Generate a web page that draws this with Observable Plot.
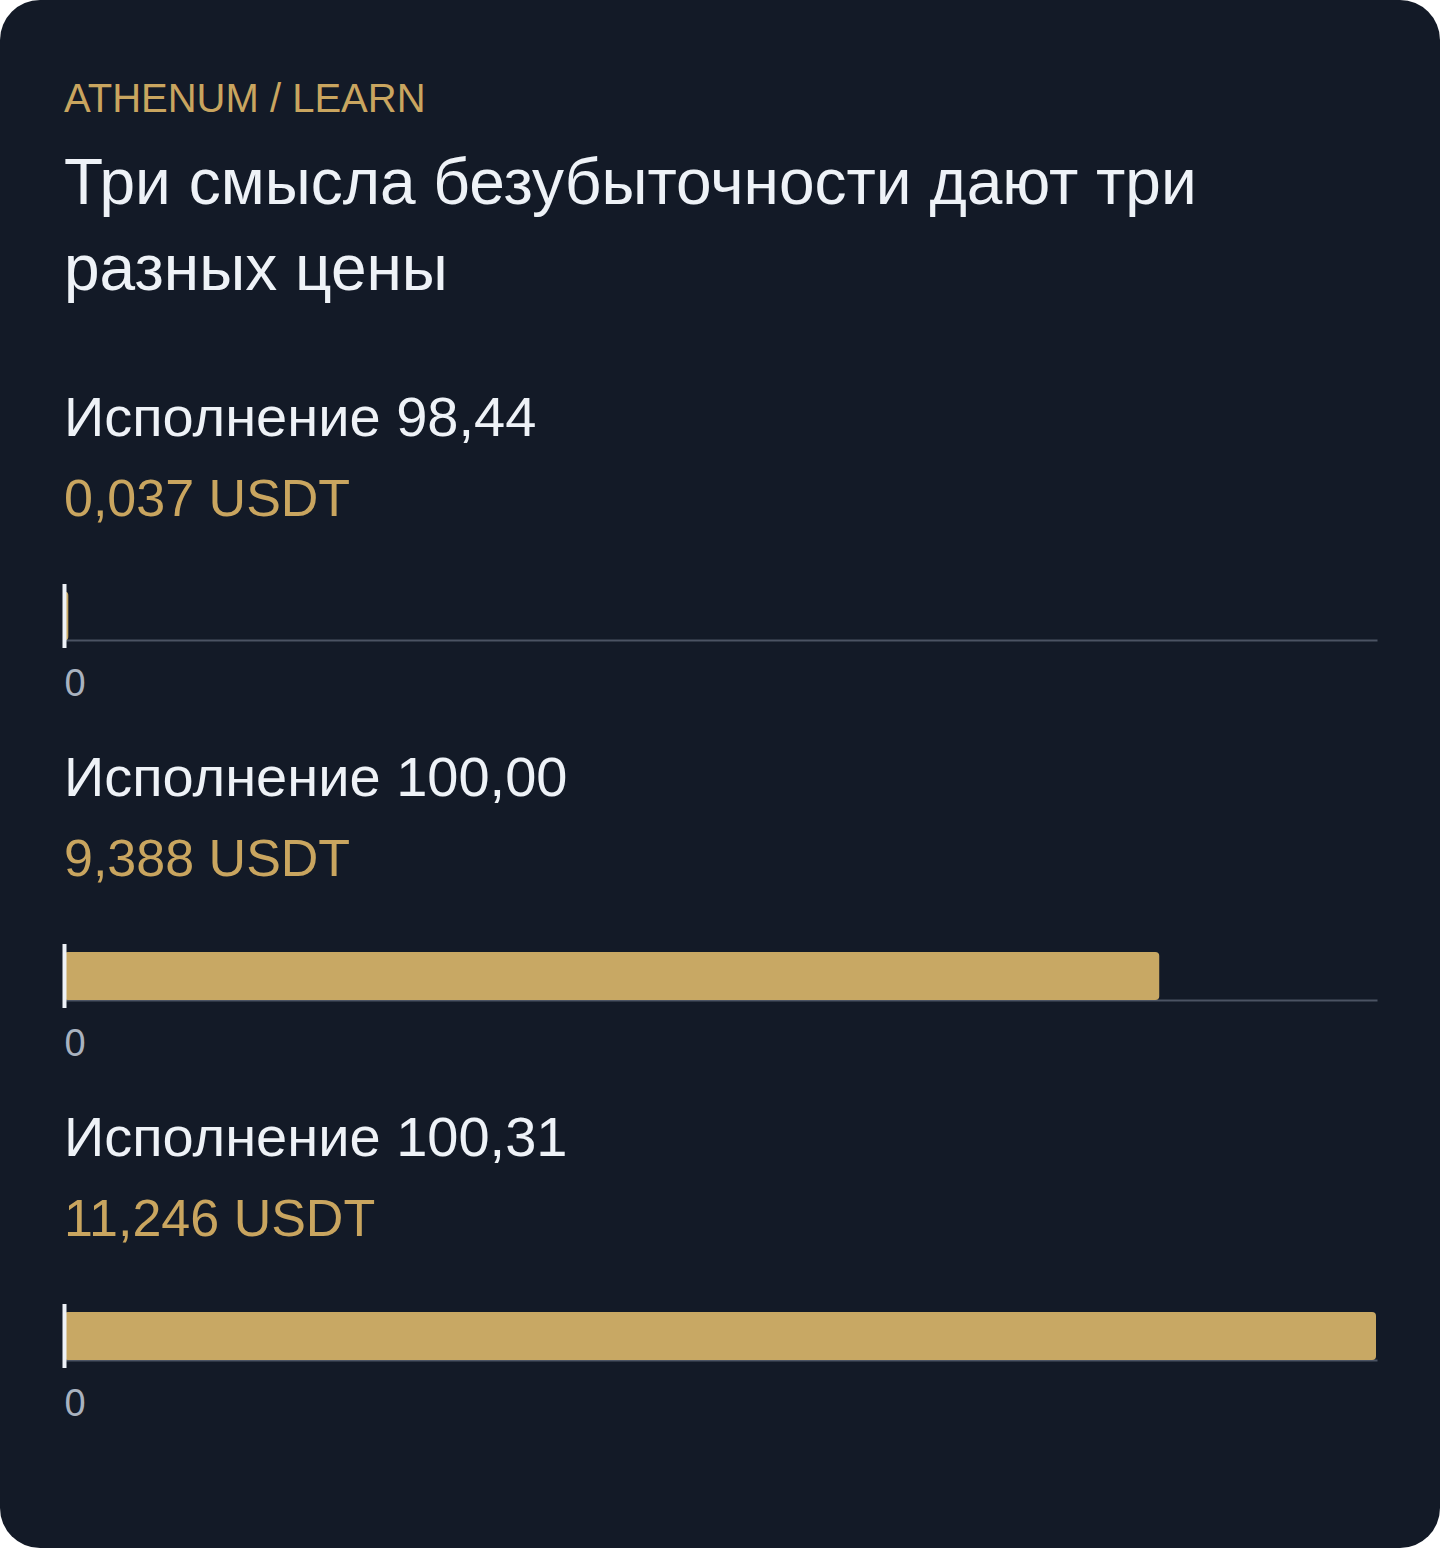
<!DOCTYPE html>
<html><head><meta charset="utf-8">
<script src="https://cdn.jsdelivr.net/npm/d3@7"></script>
<script src="https://cdn.jsdelivr.net/npm/@observablehq/plot@0.6"></script>
<style>
html,body{margin:0;padding:0;background:#ffffff;}
#card{position:relative;width:1440px;height:1548px;background:#131a27;border-radius:40px;overflow:hidden;font-family:"Liberation Sans",Arial,Helvetica,sans-serif;}
.kicker{position:absolute;left:64px;top:78px;font-size:40px;line-height:40px;color:#c9a55f;white-space:nowrap;}
.title{position:absolute;left:64px;top:139px;font-size:64px;line-height:86px;color:#eef2f7;white-space:nowrap;}
.panel{position:absolute;left:0;width:1440px;height:360px;}
.label{position:absolute;left:64px;top:389px;font-size:56px;line-height:56px;color:#eef2f7;white-space:nowrap;}
.value{position:absolute;left:64px;top:472px;font-size:52px;line-height:52px;color:#c9a55f;white-space:nowrap;}
.chart{position:absolute;left:0;top:560px;}
.chart svg{display:block;}
</style>
</head><body>
<div id="card">
  <div class="kicker">ATHENUM / LEARN</div>
  <div class="title">Три смысла безубыточности дают три<br>разных цены</div>
</div>
<script>
const labels = ["Исполнение 98,44", "Исполнение 100,00", "Исполнение 100,31"];
const values = [0.037, 9.388, 11.246];
const valueLabels = ["0,037 USDT", "9,388 USDT", "11,246 USDT"];
const ticks = [0];

const card = document.getElementById("card");
const xMax = d3.max(values);

labels.forEach((label, i) => {
  const panel = document.createElement("div");
  panel.className = "panel";
  panel.style.top = (i * 360) + "px";
  const l = document.createElement("div");
  l.className = "label"; l.textContent = label;
  const v = document.createElement("div");
  v.className = "value"; v.textContent = valueLabels[i];
  panel.appendChild(l); panel.appendChild(v);

  const chart = Plot.plot({
    width: 1440,
    height: 150,
    marginLeft: 64,
    marginRight: 64,
    marginTop: 32,
    marginBottom: 70,
    x: {domain: [0, xMax], axis: null},
    style: {background: "transparent", fontFamily: "'Liberation Sans', Arial, sans-serif", color: "#a9b2bf"},
    marks: [
      Plot.frame({anchor: "bottom", stroke: "#4b5363", strokeWidth: 2}),
      Plot.barX([{label, value: values[i]}], {x: "value", fill: "#c8a864", rx: 4}),
      Plot.ruleX(ticks, {stroke: "#eef2f7", strokeWidth: 4, insetTop: -8, insetBottom: -8}),
      Plot.axisX({ticks: ticks, label: null, tickSize: 0, tickPadding: 29, textAnchor: "start", fontSize: 38, fill: "#a9b2bf", tickFormat: d => String(d)})
    ]
  });
  const wrap = document.createElement("div");
  wrap.className = "chart";
  wrap.appendChild(chart);
  panel.appendChild(wrap);
  card.appendChild(panel);
});
</script>
</body></html>
